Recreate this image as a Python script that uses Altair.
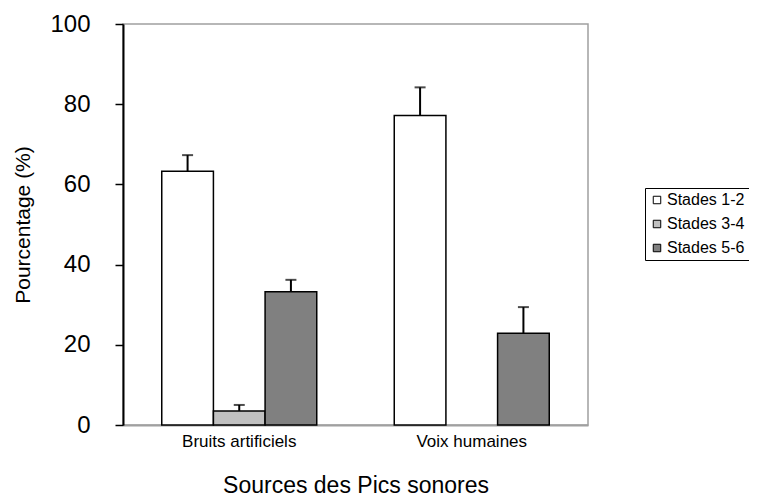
import altair as alt
import pandas as pd

groups = ["Bruits artificiels", "Bruits artificiels", "Bruits artificiels", "Voix humaines", "Voix humaines"]
stages = ["Stades 1-2", "Stades 3-4", "Stades 5-6", "Stades 1-2", "Stades 5-6"]
values = [63.3, 3.5, 33.2, 77.2, 22.9]
errors = [4.0, 1.5, 3.0, 7.0, 6.5]

stage_order = ["Stades 1-2", "Stades 3-4", "Stades 5-6"]
stage_colors = ["#ffffff", "#c0c0c0", "#808080"]
group_order = ["Bruits artificiels", "Voix humaines"]

df = pd.DataFrame({"group": groups, "stage": stages, "value": values, "err": errors})
df["upper"] = df["value"] + df["err"]

font = "Liberation Sans"

x = alt.X("group:N", sort=group_order,
          scale=alt.Scale(paddingInner=0, paddingOuter=0),
          axis=alt.Axis(title="Sources des Pics sonores", labelAngle=0, ticks=False,
                        labelFontSize=17, labelPadding=8, labelColor="black",
                        titleFontSize=23, titleFontWeight="normal", titlePadding=25,
                        titleColor="black", domainColor="#a0a0a0", domainWidth=2))
xo = alt.XOffset("stage:N", sort=stage_order,
                 scale=alt.Scale(domain=stage_order, paddingInner=0, paddingOuter=0.75))

bars = alt.Chart(df).mark_bar(stroke="black", strokeWidth=1.5).encode(
    x=x,
    xOffset=xo,
    y=alt.Y("value:Q", scale=alt.Scale(domain=[0, 100], nice=False),
            axis=alt.Axis(title="Pourcentage (%)", values=[0, 20, 40, 60, 80, 100],
                          grid=False, tickSize=8, tickColor="black", tickWidth=1.5,
                          domainColor="black", domainWidth=2,
                          labelFontSize=24, labelPadding=25, labelColor="black",
                          titleFontSize=21, titleFontWeight="normal", titlePadding=16,
                          titleColor="black")),
    fill=alt.Fill("stage:N", sort=stage_order,
                  scale=alt.Scale(domain=stage_order, range=stage_colors),
                  legend=alt.Legend(title=None, orient="none", legendX=522, legendY=164,
                                    symbolType="square", symbolSize=56,
                                    symbolStrokeColor="black", symbolStrokeWidth=1,
                                    labelFontSize=16, labelColor="black",
                                    rowPadding=8, padding=4, strokeColor="black",
                                    labelOffset=2)),
)

rules = alt.Chart(df).mark_rule(color="black", strokeWidth=2).encode(
    x=alt.X("group:N", sort=group_order),
    xOffset=xo,
    y="value:Q",
    y2="upper:Q",
)

caps = alt.Chart(df).mark_tick(color="black", thickness=2, size=11).encode(
    x=alt.X("group:N", sort=group_order),
    xOffset=xo,
    y="upper:Q",
)

chart = alt.layer(bars, rules, caps).properties(
    width=465, height=401,
    autosize=alt.AutoSizeParams(type="none"),
    padding={"left": 115, "top": 16, "right": 161, "bottom": 76},
).configure(font=font).configure_view(stroke="#a0a0a0", strokeWidth=1.5)

chart.save("out.html", embed_options={"renderer": "svg", "actions": False})
